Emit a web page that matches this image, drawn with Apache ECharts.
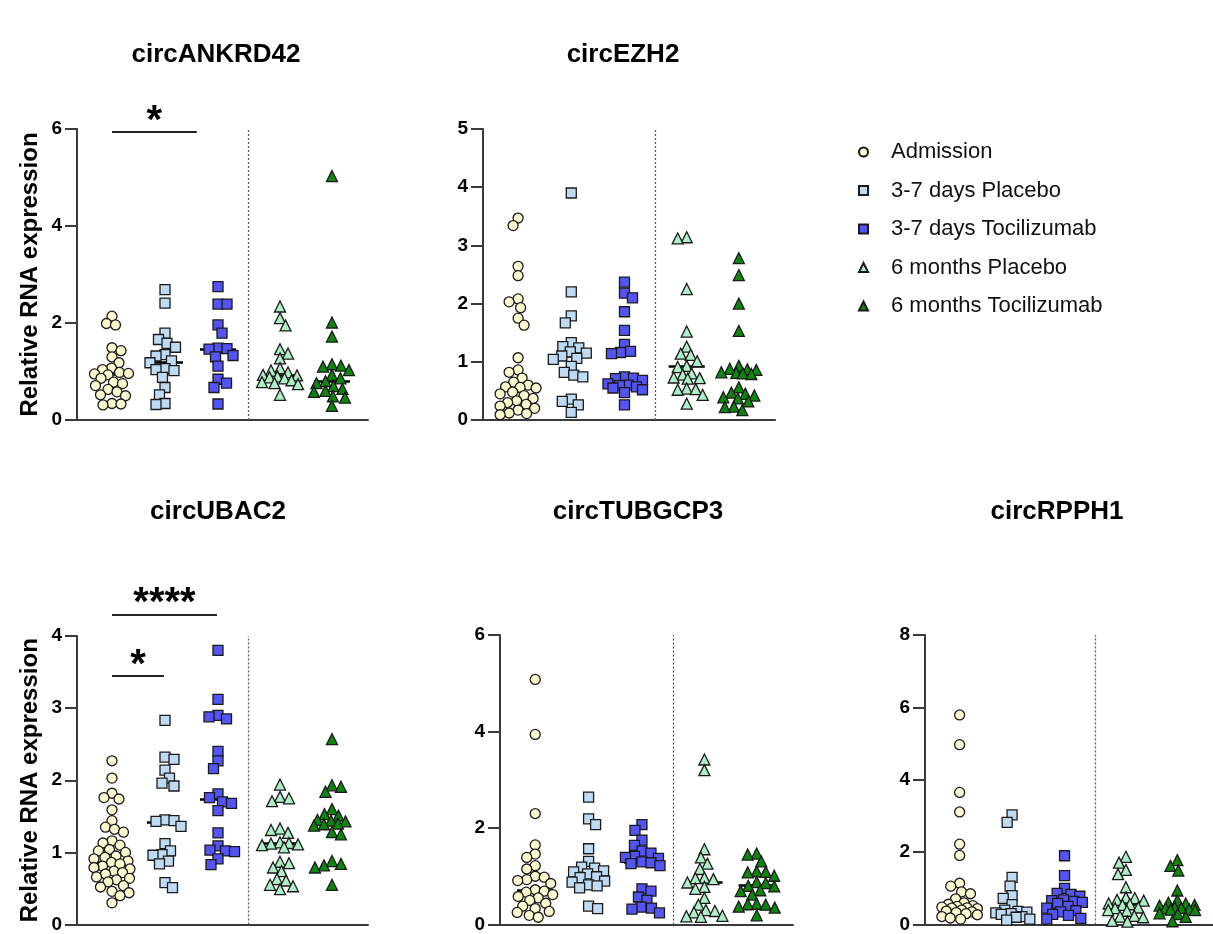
<!DOCTYPE html>
<html>
<head>
<meta charset="utf-8">
<script src="https://cdn.jsdelivr.net/npm/echarts@6/dist/echarts.min.js"></script>
<style>html,body{margin:0;padding:0;background:#fff}#c{width:1213px;height:934px}</style>
</head>
<body>
<div id="c"></div>
<script>
// ---------------- data ----------------
const groupNames = ['Admission','3-7 days Placebo','3-7 days Tocilizumab','6 months Placebo','6 months Tocilizumab'];
const panelTitles = ['circANKRD42','circEZH2','circUBAC2','circTUBGCP3','circRPPH1'];
const yMaxes = [6,5,4,6,8];
const yIntervals = [2,1,1,2,2];

const ankrd42Adm = [2.14,1.99,1.96,1.49,1.43,1.30,1.18,1.07,1.04,0.98,0.96,0.95,0.93,0.86,0.78,0.75,0.71,0.63,0.58,0.52,0.50,0.34,0.33,0.31];
const ankrd42P37 = [2.69,2.41,1.79,1.66,1.58,1.50,1.35,1.32,1.22,1.18,1.06,1.04,1.02,0.88,0.67,0.52,0.34,0.32];
const ankrd42T37 = [2.75,2.39,2.39,1.96,1.79,1.48,1.47,1.46,1.33,1.30,1.11,0.84,0.76,0.67,0.33];
const ankrd42P6m = [2.34,2.10,1.95,1.46,1.37,1.27,1.07,1.02,0.98,0.93,0.92,0.90,0.88,0.86,0.82,0.78,0.76,0.74,0.52];
const ankrd42T6m = [5.03,2.01,1.72,1.15,1.12,1.10,1.03,0.93,0.86,0.80,0.76,0.70,0.64,0.60,0.58,0.49,0.46,0.29];
const ankrd42Med = [0.95,1.20,1.46,0.93,0.80];

const ezh2Adm = [3.47,3.34,2.64,2.48,2.08,2.03,1.93,1.75,1.63,1.07,0.86,0.82,0.72,0.65,0.60,0.57,0.56,0.55,0.48,0.45,0.42,0.37,0.33,0.30,0.27,0.24,0.20,0.17,0.12,0.11,0.09];
const ezh2P37 = [3.90,2.20,1.79,1.67,1.33,1.26,1.24,1.17,1.15,1.10,1.06,1.04,0.92,0.82,0.77,0.74,0.36,0.32,0.26,0.13];
const ezh2T37 = [2.37,2.18,2.10,1.86,1.54,1.30,1.18,1.16,1.14,0.74,0.72,0.71,0.68,0.62,0.60,0.59,0.57,0.55,0.52,0.47,0.26];
const ezh2P6m = [3.14,3.12,2.25,1.52,1.26,1.14,1.12,1.01,0.93,0.91,0.80,0.78,0.73,0.72,0.71,0.54,0.53,0.52,0.43,0.28];
const ezh2T6m = [2.78,2.49,2.00,1.53,0.93,0.88,0.87,0.86,0.82,0.81,0.80,0.79,0.56,0.47,0.45,0.42,0.39,0.37,0.32,0.23,0.22,0.17];
const ezh2Med = [0.57,1.10,0.60,0.92,0.81];

const ubac2Adm = [2.27,2.03,1.82,1.76,1.74,1.59,1.44,1.35,1.32,1.28,1.16,1.13,1.10,1.04,1.02,1.00,0.95,0.93,0.91,0.88,0.86,0.84,0.81,0.79,0.77,0.74,0.72,0.70,0.66,0.64,0.62,0.59,0.54,0.52,0.46,0.44,0.40,0.30];
const ubac2P37 = [2.83,2.32,2.29,2.14,2.03,1.96,1.92,1.45,1.44,1.43,1.36,1.12,1.02,0.97,0.96,0.88,0.84,0.58,0.51];
const ubac2T37 = [3.80,3.12,2.90,2.88,2.85,2.40,2.27,2.16,1.81,1.76,1.70,1.68,1.58,1.27,1.09,1.03,1.02,1.01,0.91,0.83];
const ubac2P6m = [1.94,1.77,1.75,1.71,1.33,1.31,1.27,1.14,1.13,1.12,1.11,1.10,1.07,0.87,0.85,0.79,0.74,0.63,0.61,0.55,0.53,0.49];
const ubac2T6m = [2.57,1.93,1.91,1.84,1.60,1.53,1.51,1.45,1.44,1.43,1.40,1.39,1.37,1.28,1.25,0.88,0.84,0.82,0.79,0.55];
const ubac2Med = [0.87,1.42,1.74,1.13,1.39];

const tubgcp3Adm = [5.08,3.94,2.30,1.65,1.46,1.39,1.22,1.15,1.00,0.98,0.93,0.91,0.85,0.72,0.69,0.67,0.62,0.58,0.55,0.50,0.44,0.38,0.33,0.27,0.25,0.19,0.15];
const tubgcp3P37 = [2.64,2.19,2.07,1.57,1.31,1.19,1.17,1.11,1.09,1.05,0.99,0.97,0.90,0.88,0.82,0.80,0.76,0.38,0.33];
const tubgcp3T37 = [2.07,1.95,1.75,1.64,1.52,1.48,1.41,1.39,1.37,1.30,1.28,1.26,1.22,0.74,0.69,0.57,0.50,0.36,0.34,0.32,0.24];
const tubgcp3P6m = [3.42,3.20,1.56,1.39,1.26,1.15,0.97,0.96,0.94,0.87,0.78,0.74,0.55,0.41,0.30,0.28,0.25,0.18,0.17,0.16];
const tubgcp3T6m = [1.47,1.45,1.31,1.10,1.09,1.08,1.01,0.88,0.86,0.80,0.79,0.71,0.69,0.62,0.43,0.42,0.41,0.37,0.35,0.19];
const tubgcp3Med = [0.70,1.05,1.30,0.87,0.81];

const rpph1Adm = [5.79,4.97,3.65,3.11,2.22,1.91,1.14,1.06,0.90,0.85,0.71,0.60,0.56,0.52,0.50,0.48,0.46,0.45,0.44,0.40,0.37,0.35,0.33,0.30,0.27,0.22,0.18,0.15];
const rpph1P37 = [3.03,2.82,1.30,1.06,0.80,0.72,0.55,0.40,0.36,0.34,0.32,0.30,0.28,0.22,0.20,0.15,0.12];
const rpph1T37 = [1.90,1.35,1.00,0.86,0.83,0.78,0.68,0.66,0.64,0.61,0.58,0.50,0.45,0.38,0.35,0.28,0.25,0.17,0.15];
const rpph1P6m = [1.87,1.71,1.51,1.39,1.03,0.75,0.73,0.68,0.66,0.58,0.56,0.54,0.47,0.45,0.40,0.38,0.24,0.22,0.20,0.10,0.08];
const rpph1T6m = [1.78,1.62,1.49,0.94,0.67,0.60,0.58,0.54,0.52,0.47,0.46,0.45,0.42,0.41,0.40,0.31,0.29,0.21,0.09];
const rpph1Med = [0.45,0.35,0.60,0.55,0.45];

// significance annotations (panel index, from x, to x, y, label)
const sigPanel = [0, 2, 2];
const sigFrom = [1, 1, 1];
const sigTo = [2.6, 2.98, 1.98];
const sigY = [5.94, 4.30, 3.45];
const sigText = ['*', '****', '*'];

// ---------------- layout / style ----------------
const panelValues = [
  [ankrd42Adm, ankrd42P37, ankrd42T37, ankrd42P6m, ankrd42T6m],
  [ezh2Adm, ezh2P37, ezh2T37, ezh2P6m, ezh2T6m],
  [ubac2Adm, ubac2P37, ubac2T37, ubac2P6m, ubac2T6m],
  [tubgcp3Adm, tubgcp3P37, tubgcp3T37, tubgcp3P6m, tubgcp3T6m],
  [rpph1Adm, rpph1P37, rpph1T37, rpph1P6m, rpph1T6m]
];
const panelMedians = [ankrd42Med, ezh2Med, ubac2Med, tubgcp3Med, rpph1Med];
const grids = [
  {left: 77, top: 129, width: 291, height: 291},
  {left: 483, top: 129, width: 292, height: 291},
  {left: 77, top: 636, width: 291, height: 292},
  {left: 500, top: 635, width: 293, height: 293},
  {left: 925, top: 635, width: 292, height: 293}
];
const titlePos = [[216, 55], [623, 55], [218, 512], [638, 512], [1057, 512]];
const groupX = [1, 2, 3, 4.17, 5.15];
const xMin = 0.34, xMax = 5.83, dividerX = 3.585, medianHalf = 0.34;
const fills = ['#FDF9D0', '#BFDBF3', '#5454F4', '#ADEEC6', '#0D860F'];
const symbols = ['circle', 'rect', 'rect', 'triangle', 'triangle'];
const sizes = [10, 10, 10, 11, 11];
const FONT = '"Liberation Sans", Arial, Helvetica, sans-serif';

function swarm(values, pxPerY, D, maxOff) {
  const order = values.map((v, i) => i).sort((a, b) => values[b] - values[a]);
  const placed = [];
  const offs = new Array(values.length).fill(0);
  order.forEach((i, n) => {
    const y = values[i] * pxPerY;
    let chosen = null, bestScore = -1, bestCand = 0;
    const sgn = n % 2 === 0 ? 1 : -1;
    for (let k = 0; k <= maxOff * 4; k++) {
      const cand = sgn * (k % 2 === 1 ? 1 : -1) * Math.ceil(k / 2) * 0.5;
      let minD = Infinity;
      for (const p of placed) {
        const dx = cand - p.x, dy = y - p.y;
        const d = Math.sqrt(dx * dx + dy * dy);
        if (d < minD) minD = d;
      }
      if (minD >= D) { chosen = cand; break; }
      if (minD > bestScore) { bestScore = minD; bestCand = cand; }
    }
    if (chosen === null) chosen = bestCand;
    placed.push({x: chosen, y});
    offs[i] = chosen;
  });
  return offs;
}

const option = {
  animation: false,
  backgroundColor: '#fff',
  grid: grids.map(g => Object.assign({containLabel: false}, g)),
  xAxis: grids.map((g, i) => ({
    type: 'value', gridIndex: i, min: xMin, max: xMax,
    axisLine: {show: true, onZero: false, lineStyle: {color: '#3a3a3a', width: 2}},
    axisTick: {show: false}, axisLabel: {show: false}, splitLine: {show: false}
  })),
  yAxis: grids.map((g, i) => ({
    type: 'value', gridIndex: i, min: 0, max: yMaxes[i], interval: yIntervals[i],
    name: (i === 0 || i === 2) ? 'Relative RNA expression' : '',
    nameLocation: 'middle', nameGap: 35,
    nameTextStyle: {fontFamily: FONT, fontWeight: 'bold', fontSize: 24, color: '#000'},
    axisLine: {show: true, onZero: false, lineStyle: {color: '#3a3a3a', width: 2}},
    axisTick: {show: true, inside: false, length: 12, lineStyle: {color: '#3a3a3a', width: 2}},
    axisLabel: {fontFamily: FONT, fontWeight: 'bold', fontSize: 19, color: '#000', margin: 15},
    splitLine: {show: false}
  })),
  legend: {
    data: groupNames.map(n => ({name: n})),
    orient: 'vertical', left: 853, top: 135,
    itemWidth: 9, itemHeight: 9, itemGap: 14.5,
    textStyle: {fontFamily: FONT, fontSize: 22, color: '#111', lineHeight: 24, padding: [0, 0, 0, 18]},
    selectedMode: false
  },
  graphic: panelTitles.map((t, i) => ({
    type: 'text', x: titlePos[i][0], y: titlePos[i][1],
    style: {text: t, font: 'bold 26px ' + FONT, fill: '#000', textAlign: 'center', textVerticalAlign: 'middle'}
  })),
  series: []
};

panelValues.forEach((groups, p) => {
  const g = grids[p];
  const pxPerY = g.height / yMaxes[p];
  const pxPerX = g.width / (xMax - xMin);
  option.series.push({
    type: 'lines', coordinateSystem: 'cartesian2d', xAxisIndex: p, yAxisIndex: p,
    z: 1, silent: true, polyline: false,
    lineStyle: {color: '#000', width: 2.5, opacity: 1},
    data: panelMedians[p].map((m, k) => ({coords: [[groupX[k] - medianHalf, m], [groupX[k] + medianHalf, m]]})),
    markLine: {
      silent: true, symbol: ['none', 'none'], label: {show: false},
      lineStyle: {type: [2, 2], color: '#555', width: 1.2},
      data: [{xAxis: dividerX}]
    }
  });
  groups.forEach((vals, k) => {
    const offs = swarm(vals, pxPerY, 9, 18);
    option.series.push({
      name: groupNames[k], type: 'scatter', xAxisIndex: p, yAxisIndex: p, z: 3,
      symbol: symbols[k], symbolSize: sizes[k], clip: false,
      itemStyle: {color: fills[k], borderColor: '#1a1a1a', borderWidth: 1.3, opacity: 1},
      data: vals.map((v, i) => [groupX[k] + offs[i] / pxPerX, v])
    });
  });
});

// significance bars
sigPanel.forEach((p, i) => {
  option.series.push({
    type: 'lines', coordinateSystem: 'cartesian2d', xAxisIndex: p, yAxisIndex: p,
    silent: true, clip: false, lineStyle: {color: '#222', width: 2, opacity: 1},
    data: [{coords: [[sigFrom[i], sigY[i]], [sigTo[i], sigY[i]]]}]
  });
});

const chart = echarts.init(document.getElementById('c'), null, {renderer: 'canvas'});
chart.setOption(option);

// significance stars placed through the axes' own scales
const starGraphics = sigPanel.map((p, i) => {
  const pt = chart.convertToPixel({xAxisIndex: p, yAxisIndex: p}, [(sigFrom[i] + sigTo[i]) / 2, sigY[i]]);
  return {
    type: 'text', x: pt[0], y: pt[1] - 10,
    style: {text: sigText[i], font: 'bold 40px ' + FONT, fill: '#000', textAlign: 'center', textVerticalAlign: 'middle'}
  };
});
chart.setOption({graphic: option.graphic.concat(starGraphics)});
</script>
</body>
</html>
